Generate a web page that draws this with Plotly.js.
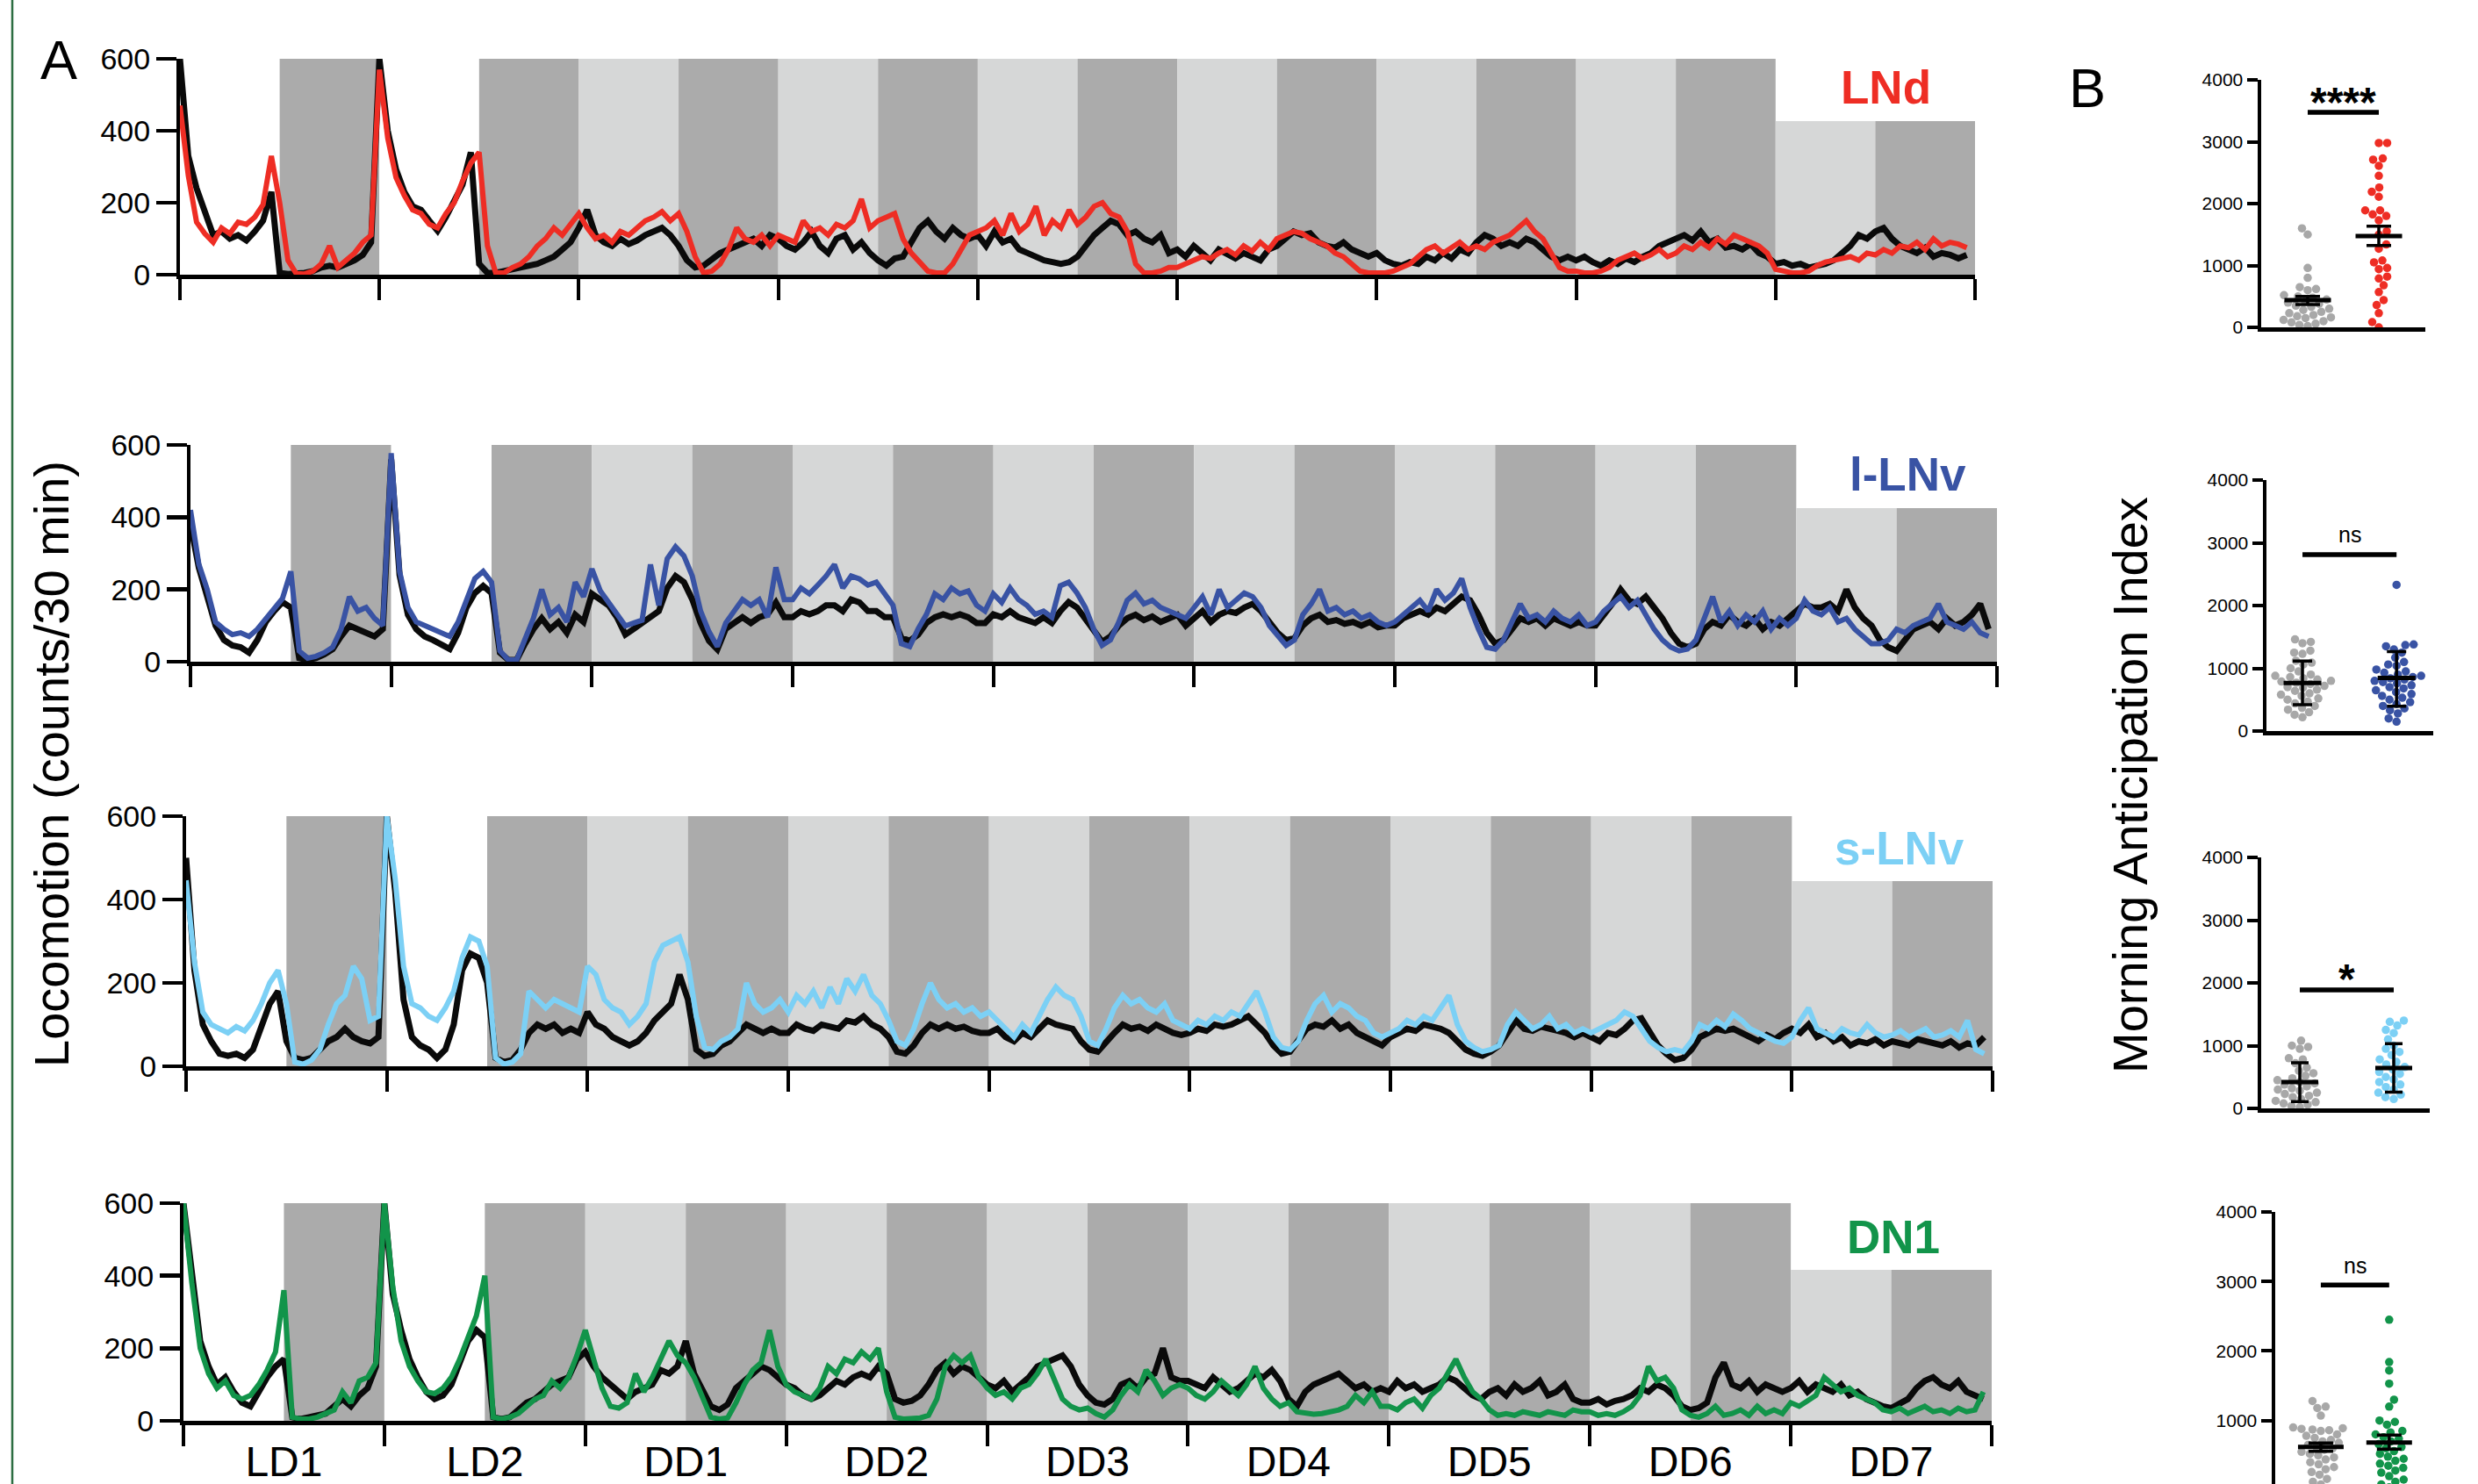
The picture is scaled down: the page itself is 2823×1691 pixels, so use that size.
<!DOCTYPE html>
<html><head><meta charset="utf-8">
<script src="https://cdn.plot.ly/plotly-3.0.1.min.js"></script>
<style>html,body{margin:0;padding:0;background:#fff}#chart{width:2823px;height:1691px}</style>
</head><body><div id="chart"></div>
<script>
// ---------------- DATA ----------------
const dayLabels = ['LD1','LD2','DD1','DD2','DD3','DD4','DD5','DD6','DD7'];
// half-day light phases: L = lights on, D = dark / subjective night, S = subjective day
const phases = ['L','D','L','D','S','D','S','D','S','D','S','D','S','D','S','D','S','D'];
const shadeTop = 600;
const shadeTopDD7 = [427, 425, 444, 416];

// hourly locomotion (counts/30 min), 216 hours
const lndCtrl = [
600,330,240,170,110,120,100,110,95,120,150,230,5,2,3,5,10,20,25,20,30,40,55,90,
600,400,293,230,190,180,150,122,160,210,250,340,30,5,5,10,15,20,25,30,40,50,70,90,
130,180,110,90,80,100,85,95,110,120,130,110,80,40,20,25,45,60,70,80,90,100,80,110,
100,80,70,90,120,80,60,100,110,70,90,60,40,25,45,50,90,130,150,120,100,130,110,100,
110,80,120,90,100,70,60,50,40,35,30,35,50,80,110,130,150,140,110,120,100,90,110,60,
70,50,80,60,40,70,55,45,60,50,40,70,80,100,120,110,115,90,80,75,90,70,60,50,
60,40,30,25,35,30,50,40,60,45,70,60,90,110,100,80,90,80,100,90,70,50,40,50,
40,50,35,25,40,30,45,35,50,60,80,90,100,110,95,120,90,100,75,80,70,85,60,50,
30,35,25,30,20,25,30,40,60,80,110,100,120,130,100,80,70,60,75,50,60,55,45,55];
const lndExp = [
470,276,146,114,90,130,114,146,140,160,195,330,200,40,3,2,10,30,80,20,40,60,90,110,
570,380,270,220,180,170,140,130,170,200,260,310,340,80,5,5,20,30,50,80,100,130,110,140,
170,130,100,110,90,120,110,130,150,160,175,150,170,120,50,5,10,30,70,130,100,90,110,80,
110,100,90,150,120,130,110,140,130,150,210,130,150,160,170,100,60,35,10,5,5,30,70,110,
120,130,150,110,170,120,140,190,110,150,130,180,140,160,190,200,170,160,120,30,5,5,10,20,
20,30,40,50,45,60,70,55,80,65,90,70,100,110,120,115,100,90,80,60,50,30,10,5,
5,5,10,20,30,50,70,80,60,75,90,70,80,70,90,100,110,130,150,120,100,60,20,10,
10,5,5,10,20,40,50,60,45,55,70,50,60,80,70,90,75,100,85,110,100,90,80,60,
15,10,5,5,10,25,35,40,45,50,40,60,55,70,60,80,75,90,70,100,80,90,85,75];
const llnvCtrl = [
380,260,180,100,60,45,40,25,60,110,140,165,150,10,5,10,20,35,70,100,90,80,70,90,
560,240,130,90,70,60,45,35,80,150,190,210,190,25,5,5,50,90,120,90,110,80,130,110,
188,172,156,123,75,91,107,123,140,204,237,220,172,107,58,34,91,107,123,107,123,131,164,123,
123,140,131,140,156,156,140,172,164,140,140,123,123,66,58,75,107,123,131,123,131,123,107,107,
131,123,140,123,115,107,123,107,140,165,150,120,90,55,70,100,120,130,115,125,110,120,130,100,
120,140,110,130,140,135,150,160,140,110,80,60,65,100,120,130,110,115,105,110,100,110,95,100,
100,120,130,140,130,150,140,160,180,170,130,80,50,60,90,120,110,120,100,120,110,100,110,100,
100,130,160,200,170,160,180,150,120,80,50,40,50,90,110,100,130,110,100,120,90,110,100,120,
140,160,150,150,160,140,200,150,120,100,60,40,30,60,90,100,110,90,120,100,110,130,160,90];
const llnvExp = [
420,270,200,110,90,75,80,70,90,120,150,175,250,30,10,15,25,40,90,180,140,150,120,100,
577,250,150,110,100,90,80,70,110,170,230,250,220,30,5,5,60,120,200,130,150,110,220,180,
257,196,164,131,99,107,115,269,156,285,318,293,237,140,83,42,107,140,172,156,172,123,261,172,
172,204,188,212,237,269,204,237,229,212,220,188,156,50,42,91,131,188,172,204,188,196,156,140,
188,164,204,172,156,131,140,123,210,220,190,150,90,45,60,110,170,190,160,170,150,140,130,120,
150,180,130,200,150,170,190,180,150,100,70,45,60,130,160,200,140,150,130,140,120,130,110,100,
110,130,150,170,140,200,170,190,230,150,90,40,35,60,110,160,120,130,110,140,120,110,130,100,
110,140,160,180,150,170,130,90,60,40,30,35,60,120,180,110,140,100,130,110,140,90,120,100,
120,170,140,130,150,110,120,90,70,50,50,60,90,80,100,110,120,160,110,100,90,110,80,70];
const slnvCtrl = [
500,230,100,60,30,25,30,20,40,100,150,180,60,20,15,20,40,60,70,90,70,60,55,70,
600,420,160,70,50,40,20,40,100,230,270,260,200,20,10,15,40,80,100,90,100,80,90,80,
130,100,90,70,60,50,60,80,110,130,150,220,160,40,25,30,50,60,80,100,90,80,90,80,
80,100,90,85,100,95,90,110,105,120,100,90,70,35,30,50,80,100,90,100,90,95,85,80,
80,90,70,60,80,70,90,110,100,95,90,60,40,35,60,80,100,90,95,85,100,90,80,75,
80,90,85,100,95,100,110,120,100,80,50,30,35,60,90,100,95,110,90,100,80,70,60,50,
70,80,90,85,100,95,90,80,60,40,30,25,35,50,80,110,90,85,95,90,85,80,70,80,
70,60,80,75,90,110,115,80,50,30,15,20,40,70,80,90,85,90,80,70,60,75,65,80,
90,80,100,70,80,60,70,50,60,55,65,50,60,55,50,65,60,55,50,60,45,55,50,70];
const slnvExp = [
446,250,130,100,90,80,95,85,110,150,200,230,150,10,5,15,40,100,150,170,240,210,110,120,
600,450,240,150,140,120,110,140,180,260,310,300,240,20,5,10,30,180,160,140,160,150,140,130,
240,220,160,140,130,100,120,150,250,290,300,310,250,120,45,40,60,70,90,200,150,130,140,160,
130,170,150,180,140,190,150,210,180,220,170,150,110,60,50,90,150,200,160,140,150,130,140,120,
130,110,90,70,100,80,120,160,190,170,160,120,60,50,90,140,170,150,160,140,130,150,110,100,
90,110,100,120,110,130,120,150,180,130,70,45,40,60,110,150,170,130,150,140,120,110,80,70,
80,90,110,100,120,110,140,170,100,60,45,35,40,50,100,130,110,90,100,120,90,100,80,90,
80,90,100,110,130,120,90,60,45,35,40,35,60,100,90,110,95,125,110,90,80,70,60,55,
70,110,140,90,80,70,90,80,75,100,80,70,75,85,70,80,90,70,75,85,70,110,40,30];
const dn1Ctrl = [
600,400,220,150,100,120,80,50,40,80,120,150,170,10,5,10,15,20,40,60,40,70,90,150,
600,350,250,170,120,80,60,70,100,160,220,250,230,10,5,10,30,50,60,80,100,110,120,170,
190,150,120,100,80,60,80,90,100,140,130,150,220,130,80,40,30,45,90,110,130,150,140,120,
100,90,70,60,70,90,110,100,120,130,120,150,130,60,50,55,70,100,140,160,130,150,140,120,
100,90,110,80,100,120,150,160,170,180,150,100,70,50,45,60,100,110,90,120,130,200,120,110,
110,100,90,120,100,80,90,110,130,120,140,110,60,40,80,100,110,120,130,110,90,100,80,90,
80,110,90,100,80,90,100,120,110,90,70,60,80,90,70,100,80,90,110,70,80,100,60,50,
50,60,45,55,60,70,90,80,100,90,70,40,30,35,50,120,160,100,90,110,80,100,90,80,
90,110,80,100,90,80,100,70,80,60,50,40,35,50,60,90,110,120,100,90,110,80,70,60];
const dn1Exp = [
600,380,200,130,90,110,70,60,70,100,140,190,360,10,5,5,10,20,30,80,50,110,120,160,
600,370,220,150,110,80,75,90,120,170,230,290,400,10,5,10,20,40,60,70,110,90,120,180,
250,170,90,40,35,50,130,80,120,170,220,180,160,120,60,10,5,8,50,100,140,160,250,150,
100,80,70,60,90,150,130,170,160,190,170,200,80,10,5,5,8,15,60,150,180,160,180,120,
90,70,80,60,90,100,130,170,110,60,40,30,35,20,10,30,70,100,80,140,110,70,90,100,
90,70,60,80,110,90,70,100,150,90,60,40,50,25,20,18,20,25,30,40,70,50,80,40,
40,30,50,60,35,70,90,130,170,120,80,60,30,15,20,15,25,20,15,25,20,15,30,25,
25,15,20,15,25,40,70,150,110,120,90,30,15,10,20,40,15,20,30,15,40,20,30,20,
50,40,55,70,120,100,80,90,70,60,50,30,25,35,20,30,40,25,30,20,35,25,30,80];

const panelNames = ['LNd','l-LNv','s-LNv','DN1'];
const ctrlSeries = [lndCtrl, llnvCtrl, slnvCtrl, dn1Ctrl];
const expSeries  = [lndExp, llnvExp, slnvExp, dn1Exp];

// Morning anticipation index (B)
const groupNames = ['Control','Experimental'];
const b1Ctrl = [1600,1500,960,800,650,620,600,520,500,480,450,420,400,380,350,330,300,280,250,230,200,180,160,150,120,100,80,60,40,20];
const b1Exp  = [2980,2980,2730,2710,2610,2450,2260,2190,2110,1890,1890,1825,1800,1730,1550,1500,1340,1270,1080,1050,960,940,820,790,680,570,440,360,230,85,0];
const b2Ctrl = [1460,1420,1400,1280,1250,1230,1120,1090,1060,1000,950,900,880,860,840,820,800,790,770,750,720,700,690,660,640,600,580,560,520,500,470,440,400,370,340,300,260,220];
const b2Exp  = [2330,1380,1370,1350,1300,1250,1170,1100,1060,1040,980,950,930,900,880,860,840,820,800,780,760,730,700,680,650,620,590,560,530,500,460,430,400,360,330,280,200,150];
const b3Ctrl = [1080,1000,980,950,800,780,720,650,600,560,520,480,450,420,400,380,350,320,300,280,250,230,200,180,150,120,100,80,60,40,20];
const b3Exp  = [1400,1380,1320,1250,1200,1100,1000,950,900,850,780,740,700,660,620,580,550,500,460,420,380,340,300,250,220,180,150];
const b4Ctrl = [1280,1200,1180,1070,900,890,880,870,860,850,800,780,750,720,700,680,650,620,600,580,550,520,500,470,440,400,370,330,300,260,220,160,120,80];
const b4Exp  = [2450,1840,1720,1530,1300,1200,1000,980,940,850,830,800,760,740,700,660,620,600,560,520,480,450,420,380,350,320,280,250,200,150,120,80,40];
const bCtrl = [b1Ctrl, b2Ctrl, b3Ctrl, b4Ctrl];
const bExp  = [b1Exp, b2Exp, b3Exp, b4Exp];
const bMean  = [[440,1475],[767,846],[421,645],[621,684]];
const bErrLo = [[369,1324],[419,395],[107,257],[558,588]];
const bErrHi = [[501,1636],[1116,1265],[729,1033],[676,790]];
const sigY = [3475, 2811, 1888, 2950];
const sigText = ['****','ns','*','ns'];
const sigTextY = [3640, 3133, 2060, 3230];

// ---------------- LAYOUT / STYLE ----------------
const W = 2823, H = 1691;
const FONT = 'Liberation Sans, Arial, Helvetica, sans-serif';
const colors = { ctrl:'#0a0a0a', exp:['#ee2d24','#3953a4','#7cd0f5','#12944a'], dot:'#a8a8a8',
                 L:'#ffffff', D:'#ababab', S:'#d6d7d7' };
const Apos = [
  {x0:205, x1:2250, yt:67,   yb:313},
  {x0:217, x1:2275, yt:507,  yb:754},
  {x0:212, x1:2270, yt:930,  yb:1215},
  {x0:209, x1:2269, yt:1371, yb:1619}];
const Bpos = [
  {x0:2576, x1:2763, yt:91,   yb:373,  xr:[0.346,2.654], yr:[0,4000], meanW:53, cap:14},
  {x0:2582, x1:2772, yt:547,  yb:833,  xr:[0.617,2.39],  yr:[0,4000], meanW:43, cap:11},
  {x0:2576, x1:2768, yt:977,  yb:1263, xr:[0.589,2.383], yr:[0,4000], meanW:42, cap:10},
  {x0:2592, x1:2774, yt:1381, yb:1691, xr:[0.333,2.67],  yr:[87,4000], meanW:52, cap:14}];
const labelPos = [[2148,99],[2173,541],[2164,967],[2157,1409]];

const px = v => v / W;
const py = v => 1 - v / H;

const traces = [];
const layout = {
  width: W, height: H, autosize: false,
  margin: {l:0, r:0, t:0, b:0, pad:0},
  paper_bgcolor: '#ffffff', plot_bgcolor: 'rgba(0,0,0,0)',
  showlegend: false, hovermode: false,
  font: {family: FONT, color: '#000'},
  annotations: [], shapes: []
};

const hours = ctrlSeries[0].map((_, i) => i);
const halfCenters = phases.map((_, k) => 6 + 12 * k);

for (let p = 0; p < 4; p++) {
  const ax = p === 0 ? '' : String(p + 1);
  const A = Apos[p];
  // light-phase shading
  traces.push({
    type: 'bar', xaxis: 'x' + ax, yaxis: 'y' + ax,
    x: halfCenters, width: phases.map(() => 12),
    y: phases.map((_, k) => k >= 16 ? shadeTopDD7[p] : shadeTop),
    marker: {color: phases.map(ph => colors[ph]), line: {width: 0}},
    hoverinfo: 'skip'
  });
  traces.push({
    type: 'scatter', mode: 'lines', xaxis: 'x' + ax, yaxis: 'y' + ax,
    x: hours, y: ctrlSeries[p], line: {color: colors.ctrl, width: 7, join: 'miter'}
  });
  traces.push({
    type: 'scatter', mode: 'lines', xaxis: 'x' + ax, yaxis: 'y' + ax,
    x: hours, y: expSeries[p], line: {color: colors.exp[p], width: 6}
  });
  const isBottom = p === 3;
  layout['xaxis' + ax] = {
    domain: [px(A.x0), px(A.x1)], anchor: 'y' + ax, range: [0, 216],
    showgrid: false, zeroline: false, showline: true, linewidth: 5, linecolor: '#000',
    tickmode: 'array', tickvals: dayLabels.map((_, d) => 12 + 24 * d), ticktext: dayLabels,
    ticks: '', showticklabels: isBottom,
    tickfont: {size: 48, family: FONT, color: '#000'},
    minor: {tick0: 0, dtick: 24, ticks: 'outside', ticklen: 24, tickwidth: 4, tickcolor: '#000', showgrid: false},
    fixedrange: true
  };
  layout['yaxis' + ax] = {
    domain: [py(A.yb), py(A.yt)], anchor: 'x' + ax, range: [0, 600],
    showgrid: false, zeroline: false, showline: true, linewidth: 4, linecolor: '#000',
    tickmode: 'array', tickvals: [0, 200, 400, 600],
    ticks: 'outside', ticklen: 23, tickwidth: 4.5, tickcolor: '#000',
    tickfont: {size: 34, family: FONT, color: '#000'}, fixedrange: true
  };
  layout.annotations.push({
    xref: 'paper', yref: 'paper', x: px(labelPos[p][0]), y: py(labelPos[p][1]),
    xanchor: 'center', yanchor: 'middle', showarrow: false, text: panelNames[p],
    font: {size: 53, family: FONT, color: colors.exp[p], weight: 700}
  });
}

// beeswarm (deterministic) layout of dots
function swarm(vals, pxPerVal, D) {
  const idx = vals.map((_, i) => i).sort((a, b) => vals[a] - vals[b]);
  const placed = [], off = new Array(vals.length).fill(0);
  let flip = 1;
  for (const i of idx) {
    const y = vals[i] * pxPerVal;
    let best = null;
    for (let k = 0; k < 600 && best === null; k++) {
      const c = k === 0 ? [0] : [flip * k * 0.5, -flip * k * 0.5];
      for (const cx of c) {
        let ok = true;
        for (const q of placed) {
          const dx = q.x - cx, dy = q.y - y;
          if (dx * dx + dy * dy < D * D) { ok = false; break; }
        }
        if (ok) { best = cx; break; }
      }
    }
    flip = -flip;
    off[i] = best; placed.push({x: best, y: y});
  }
  return off;
}

for (let b = 0; b < 4; b++) {
  const n = b + 5, ax = String(n);
  const B = Bpos[b];
  const pxPerVal = (B.yb - B.yt) / (B.yr[1] - B.yr[0]);
  const pxPerX = (B.x1 - B.x0) / (B.xr[1] - B.xr[0]);
  const groups = [bCtrl[b], bExp[b]];
  const gcol = [colors.dot, colors.exp[b]];
  groups.forEach((vals, g) => {
    const off = swarm(vals, pxPerVal, 9.4);
    traces.push({
      type: 'scatter', mode: 'markers', xaxis: 'x' + ax, yaxis: 'y' + ax,
      x: vals.map((_, i) => (g + 1) + off[i] / pxPerX), y: vals,
      marker: {color: gcol[g], size: 9.5, line: {width: 0}}, cliponaxis: true
    });
  });
  // mean +/- error
  traces.push({
    type: 'scatter', mode: 'markers', xaxis: 'x' + ax, yaxis: 'y' + ax,
    x: [1, 2], y: bMean[b],
    marker: {symbol: 'line-ew', size: B.meanW / 1.4, color: '#000', line: {color: '#000', width: 5}},
    error_y: {type: 'data', symmetric: false,
      array: bMean[b].map((m, g) => bErrHi[b][g] - m),
      arrayminus: bMean[b].map((m, g) => m - bErrLo[b][g]),
      color: '#000', thickness: 3.5, width: B.cap}
  });
  // significance bar
  traces.push({
    type: 'scatter', mode: 'lines', xaxis: 'x' + ax, yaxis: 'y' + ax,
    x: [1, 2], y: [sigY[b], sigY[b]], line: {color: '#000', width: 5.5}
  });
  const isStar = sigText[b].indexOf('*') >= 0;
  layout.annotations.push({
    xref: 'x' + ax, yref: 'y' + ax, x: 1.5, y: sigTextY[b], showarrow: false,
    xanchor: 'center', yanchor: 'middle', text: sigText[b],
    font: isStar ? {size: 48, family: FONT, color: '#000', weight: 700} : {size: 25, family: FONT, color: '#000'}
  });
  layout['xaxis' + ax] = {
    domain: [px(B.x0), px(B.x1)], anchor: 'y' + ax, range: B.xr,
    showgrid: false, zeroline: false, showline: b < 3, linewidth: 4.5, linecolor: '#000',
    ticks: '', showticklabels: false, fixedrange: true
  };
  layout['yaxis' + ax] = {
    domain: [py(B.yb), py(B.yt)], anchor: 'x' + ax, range: B.yr,
    showgrid: false, zeroline: false, showline: true, linewidth: 4.5, linecolor: '#000',
    tickmode: 'array', tickvals: [0, 1000, 2000, 3000, 4000],
    ticks: 'outside', ticklen: 12, tickwidth: 4, tickcolor: '#000',
    tickfont: {size: 21, family: FONT, color: '#000'}, fixedrange: true
  };
}

// figure-level texts
layout.annotations.push(
  {xref:'paper', yref:'paper', x:px(67), y:py(68), xanchor:'center', yanchor:'middle', showarrow:false,
   text:'A', font:{size:63, family:FONT, color:'#000'}},
  {xref:'paper', yref:'paper', x:px(2378), y:py(100), xanchor:'center', yanchor:'middle', showarrow:false,
   text:'B', font:{size:63, family:FONT, color:'#000'}},
  {xref:'paper', yref:'paper', x:px(58), y:py(871), xanchor:'center', yanchor:'middle', showarrow:false,
   textangle:-90, text:'Locomotion (counts/30 min)', font:{size:56, family:FONT, color:'#000'}},
  {xref:'paper', yref:'paper', x:px(2427), y:py(895), xanchor:'center', yanchor:'middle', showarrow:false,
   textangle:-90, text:'Morning Anticipation Index', font:{size:56, family:FONT, color:'#000'}}
);

layout.shapes.push({type:'line', xref:'paper', yref:'paper', x0:px(14), x1:px(14), y0:0, y1:1,
  line:{color:'#2c6e42', width:2.5}});

Plotly.newPlot('chart', traces, layout, {staticPlot: true, displayModeBar: false});
</script></body></html>
